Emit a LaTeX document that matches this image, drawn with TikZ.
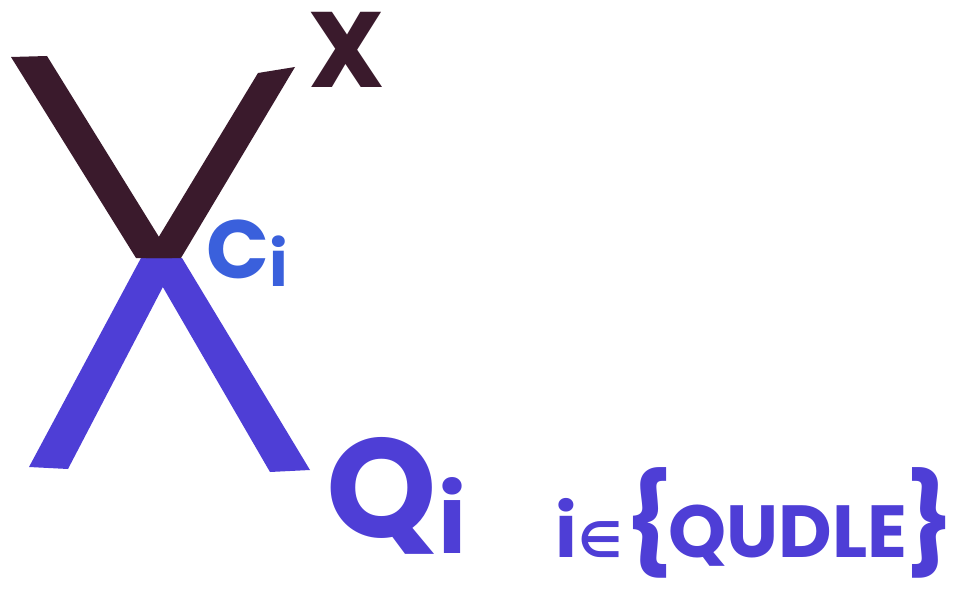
\documentclass[tikz,border=0pt]{standalone}
\usepackage{fontspec}
\newfontfamily\hand{Poppins}
\newfontfamily\symfont{DejaVu Sans}
\definecolor{darkink}{RGB}{58,26,44}
\definecolor{blueink}{RGB}{78,62,214}
\definecolor{lightink}{RGB}{58,96,220}
\begin{document}
\begin{tikzpicture}[x=0.02cm,y=-0.02cm]
		\tikzstyle{every node}=[font=\hand\bfseries, inner sep=0pt]
		\useasboundingbox (0,0) rectangle (953,591);
		% lower strokes
		\fill [blueink] (141,258) -- (178,258) -- (68,469) -- (29,467) -- cycle;
		\fill [blueink] (146,258) -- (182,258) -- (310,470) -- (270,472) -- cycle;
		% upper strokes
		\fill [darkink] (11,57) -- (47,56) -- (172,258) -- (136,258) -- cycle;
		\fill [darkink] (258,73) -- (295,67) -- (181,258) -- (146,258) -- cycle;
		% labels
		\node [text=darkink, font=\hand\bfseries\fontsize{61pt}{61pt}\selectfont] (labelX) at (347,50) {X};
		\node [text=lightink, font=\hand\bfseries\fontsize{47pt}{47pt}\selectfont, anchor=base west] (labelC) at (206,278) {C\kern0pt\raisebox{-0.1em}{\fontsize{36pt}{36pt}\selectfont i}};
		\node [text=blueink, font=\hand\bfseries\fontsize{80pt}{80pt}\selectfont, anchor=base west] (labelQ) at (326,537) {Q\kern1pt\raisebox{-0.12em}{\fontsize{54pt}{54pt}\selectfont i}};
		\node [text=blueink, font=\hand\bfseries\fontsize{42pt}{42pt}\selectfont, anchor=base west] (labelSet) at (555,557) {i\kern1pt{\symfont\fontsize{28pt}{28pt}\selectfont ∈}\kern1pt{\fontsize{56pt}{56pt}\selectfont\{}\kern-3pt QUDLE\kern-1pt{\fontsize{56pt}{56pt}\selectfont\}}\kern-6pt};
	\end{tikzpicture}
\end{document}
